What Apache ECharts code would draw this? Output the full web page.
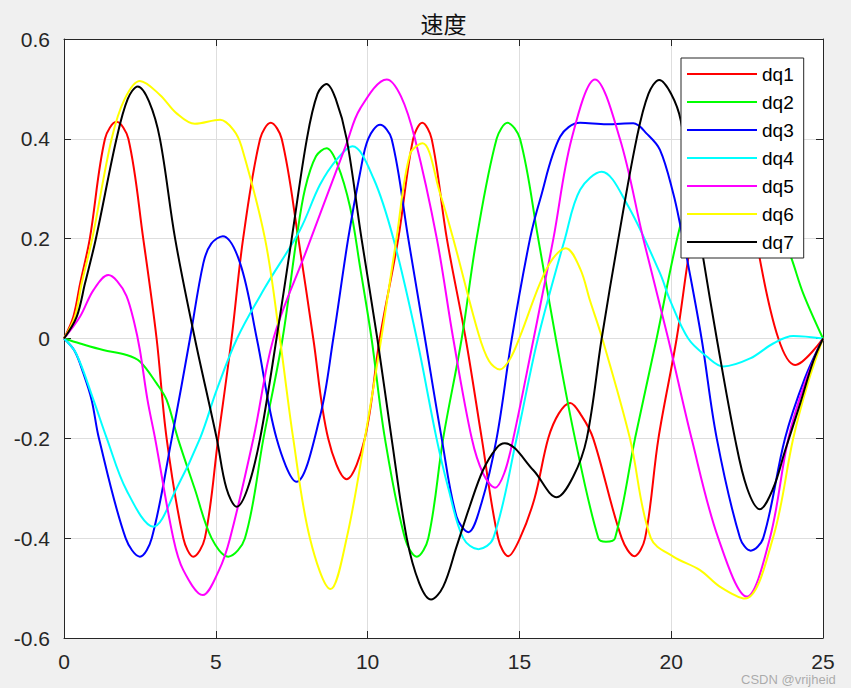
<!DOCTYPE html>
<html><head><meta charset="utf-8">
<script src="https://cdn.jsdelivr.net/npm/echarts@6/dist/echarts.min.js"></script>
<style>html,body{margin:0;padding:0;background:#f0f0f0}#c{width:851px;height:688px}</style>
</head><body><div id="c"></div>
<script>
const titleText = '速度';
const watermarkText = 'CSDN @vrijheid';
const seriesNames = ['dq1', 'dq2', 'dq3', 'dq4', 'dq5', 'dq6', 'dq7'];
const seriesColors = ['#ff0000', '#00ff00', '#0000ff', '#00ffff', '#ff00ff', '#ffff00', '#000000'];
const xTicks = [0, 5, 10, 15, 20, 25];
const yTicks = [-0.6, -0.4, -0.2, 0, 0.2, 0.4, 0.6];

const dq1 = [[0,0],[0.31,0.044],[0.53,0.11],[0.85,0.2],[1.35,0.4],[1.73,0.434],[2.12,0.4],[2.61,0.2],[3.05,0],[3.38,-0.2],[3.93,-0.4],[4.26,-0.437],[4.64,-0.4],[5.08,-0.2],[5.52,0],[5.9,0.2],[6.46,0.4],[6.81,0.432],[7.17,0.4],[7.72,0.2],[8.21,0],[8.7,-0.2],[9.31,-0.282],[9.91,-0.2],[10.4,0],[11.01,0.2],[11.5,0.4],[11.8,0.432],[12.11,0.4],[12.61,0.2],[13.23,0],[13.76,-0.2],[14.3,-0.4],[14.63,-0.436],[15.02,-0.4],[15.5,-0.32],[15.95,-0.2],[16.3,-0.15],[16.67,-0.129],[17.05,-0.155],[17.43,-0.2],[18.37,-0.4],[18.79,-0.436],[19.14,-0.4],[19.58,-0.2],[20.18,0],[20.56,0.16],[21.1,0.36],[21.74,0.45],[22.4,0.36],[22.92,0.159],[23.53,0],[24.08,-0.053],[25,0]];
const dq2 = [[0,0],[0.53,-0.01],[1.29,-0.023],[2.06,-0.033],[2.5,-0.046],[3.05,-0.09],[3.38,-0.123],[3.75,-0.2],[4.3,-0.3],[4.86,-0.4],[5.41,-0.437],[5.96,-0.4],[6.57,-0.2],[7.2,0],[7.66,0.2],[7.94,0.3],[8.3,0.365],[8.65,0.381],[9.0,0.35],[9.42,0.264],[9.75,0.144],[10.13,0],[10.57,-0.2],[11.23,-0.4],[11.62,-0.437],[12.0,-0.4],[12.49,-0.2],[13.1,0],[13.59,0.2],[14.25,0.4],[14.61,0.432],[15.02,0.4],[15.62,0.2],[16.2,0],[16.83,-0.2],[17.6,-0.4],[17.85,-0.407],[18.15,-0.4],[18.81,-0.2],[19.52,0],[20.29,0.224],[21.0,0.36],[21.9,0.41],[23.0,0.32],[23.97,0.159],[24.35,0.09],[25,0]];
const dq3 = [[0,0],[0.35,-0.025],[0.64,-0.07],[0.91,-0.123],[1.15,-0.2],[2.03,-0.4],[2.5,-0.437],[2.89,-0.4],[3.55,-0.2],[4.15,0],[4.59,0.151],[4.85,0.19],[5.23,0.205],[5.8,0.151],[6.35,0],[7.0,-0.2],[7.66,-0.287],[8.43,-0.157],[8.87,0],[9.36,0.2],[9.75,0.331],[10.02,0.4],[10.41,0.428],[10.79,0.4],[11.34,0.2],[11.89,0],[12.44,-0.2],[12.93,-0.357],[13.32,-0.388],[13.75,-0.33],[14.25,-0.2],[14.75,0],[15.35,0.2],[15.68,0.278],[16.34,0.404],[17.0,0.432],[17.87,0.429],[18.75,0.431],[19.2,0.41],[19.63,0.378],[20.07,0.29],[20.31,0.224],[20.53,0.157],[21.0,0],[21.5,-0.2],[22.27,-0.4],[22.62,-0.425],[23.03,-0.4],[23.75,-0.2],[24.4,-0.08],[25,0]];
const dq4 = [[0,0],[0.4,-0.03],[0.97,-0.123],[1.41,-0.2],[2.06,-0.304],[2.94,-0.377],[3.71,-0.3],[4.48,-0.2],[5.03,-0.103],[5.7,0],[6.6,0.1],[7.77,0.217],[8.43,0.308],[9.0,0.36],[9.5,0.385],[10.2,0.32],[10.85,0.2],[11.62,0],[12.27,-0.2],[12.66,-0.3],[13.15,-0.4],[13.65,-0.422],[14.14,-0.4],[14.91,-0.2],[15.61,0],[16.5,0.2],[17.0,0.298],[17.71,0.334],[18.53,0.271],[19.63,0.131],[19.96,0.077],[20.56,0],[21.17,-0.036],[21.72,-0.056],[22.6,-0.04],[23.36,-0.01],[24.02,0.005],[25,0]];
const dq5 = [[0,0],[0.53,0.044],[0.97,0.097],[1.46,0.127],[1.75,0.115],[2.06,0.085],[2.32,0.03],[2.5,-0.023],[2.75,-0.123],[3.0,-0.2],[3.6,-0.4],[3.93,-0.464],[4.57,-0.514],[5.1,-0.465],[5.47,-0.4],[6.24,-0.2],[6.9,0],[7.99,0.177],[9.31,0.391],[9.75,0.46],[10.63,0.519],[11.1,0.485],[11.56,0.4],[12.28,0.2],[12.82,0],[13.43,-0.2],[13.8,-0.27],[14.2,-0.299],[14.5,-0.27],[14.8,-0.2],[15.47,0],[15.68,0.064],[16.12,0.2],[16.72,0.4],[17.49,0.519],[18.31,0.4],[19.08,0.2],[19.9,0],[20.67,-0.2],[21.55,-0.4],[22.49,-0.517],[23.25,-0.4],[23.86,-0.2],[24.4,-0.09],[25,0]];
const dq6 = [[0,0],[0.36,0.044],[0.58,0.11],[0.93,0.2],[1.57,0.4],[2.0,0.48],[2.5,0.516],[3.16,0.488],[3.71,0.451],[4.31,0.43],[5.14,0.438],[5.58,0.418],[5.85,0.384],[6.62,0.2],[7.11,0],[7.55,-0.2],[8.1,-0.4],[8.78,-0.502],[9.31,-0.4],[9.91,-0.2],[10.45,0],[10.95,0.2],[11.4,0.37],[11.81,0.391],[12.39,0.29],[12.82,0.2],[13.65,0.01],[14.0,-0.045],[14.36,-0.062],[14.7,-0.04],[15.02,0.004],[15.68,0.111],[16.1,0.16],[16.53,0.181],[17.0,0.14],[17.33,0.075],[17.73,0],[18.64,-0.2],[19.33,-0.4],[20.07,-0.437],[20.95,-0.464],[21.6,-0.497],[22.43,-0.521],[23.35,-0.4],[24.02,-0.2],[24.5,-0.09],[25,0]];
const dq7 = [[0,0],[0.42,0.044],[0.69,0.11],[1.05,0.2],[1.73,0.4],[2.1,0.48],[2.43,0.505],[2.8,0.475],[3.16,0.4],[3.66,0.2],[4.31,0],[5.03,-0.2],[5.35,-0.3],[5.69,-0.337],[6.05,-0.3],[6.46,-0.2],[7.0,0],[7.5,0.2],[8.0,0.4],[8.35,0.49],[8.65,0.51],[8.95,0.48],[9.31,0.4],[9.8,0.2],[10.32,0],[10.79,-0.2],[11.29,-0.4],[11.7,-0.49],[12.09,-0.523],[12.49,-0.497],[12.93,-0.417],[13.36,-0.337],[13.8,-0.264],[14.24,-0.22],[14.52,-0.21],[15.46,-0.264],[16.23,-0.318],[16.77,-0.277],[17.22,-0.2],[17.71,0],[18.26,0.2],[18.86,0.4],[19.25,0.49],[19.61,0.518],[20.0,0.49],[20.31,0.438],[21.06,0.159],[21.5,0],[22.1,-0.2],[22.5,-0.3],[22.92,-0.342],[23.36,-0.3],[23.75,-0.225],[24.25,-0.13],[24.68,-0.045],[25,0]];
const seriesData = [dq1, dq2, dq3, dq4, dq5, dq6, dq7];

const axisColor = '#262626';
const fontFam = 'Liberation Sans, Arial, sans-serif';
const fmtY = v => { const r = Math.round(v * 10) / 10; return r === 0 ? '0' : String(r); };

function makeX(pos, labels) {
  return {
    type: 'value', position: pos, min: xTicks[0], max: xTicks[xTicks.length - 1], interval: 5,
    axisLine: { show: true, onZero: false, lineStyle: { color: axisColor, width: 1 } },
    axisTick: { show: true, inside: true, length: 7, lineStyle: { color: axisColor } },
    axisLabel: { show: labels, color: axisColor, fontSize: 21, fontFamily: fontFam, margin: 13 },
    splitLine: { show: labels, lineStyle: { color: '#dedede', width: 1 } }
  };
}
function makeY(pos, labels) {
  return {
    type: 'value', position: pos, min: yTicks[0], max: yTicks[yTicks.length - 1], interval: 0.2,
    axisLine: { show: true, onZero: false, lineStyle: { color: axisColor, width: 1 } },
    axisTick: { show: true, inside: true, length: 7, lineStyle: { color: axisColor } },
    axisLabel: { show: labels, color: axisColor, fontSize: 21, fontFamily: fontFam, margin: 14, formatter: fmtY },
    splitLine: { show: labels, lineStyle: { color: '#dedede', width: 1 } }
  };
}

const chart = echarts.init(document.getElementById('c'), null, { renderer: 'svg' });
chart.setOption({
  backgroundColor: '#f0f0f0',
  animation: false,
  grid: { left: 64, top: 39, right: 28, bottom: 50, show: true, backgroundColor: '#ffffff', borderWidth: 0 },
  xAxis: [makeX('bottom', true), makeX('top', false)],
  yAxis: [makeY('left', true), makeY('right', false)],
  legend: {
    orient: 'vertical', left: 681, top: 58, padding: [6, 10, 6, 6], itemGap: 8,
    icon: 'rect', itemWidth: 70, itemHeight: 2, backgroundColor: '#ffffff', borderColor: axisColor, borderWidth: 1,
    textStyle: { fontSize: 19, color: '#000', fontFamily: fontFam, lineHeight: 20 },
    data: seriesNames
  },
  graphic: [
    { type: 'text', x: 443.5, y: 23, style: { text: titleText, fontSize: 23, fontFamily: 'Noto Sans CJK SC', fontWeight: 'normal', fill: '#111', textAlign: 'center', textVerticalAlign: 'middle' } },
    { type: 'text', x: 741, y: 679, z: 100, style: { text: watermarkText, fontSize: 13, fontFamily: fontFam, fill: 'rgba(110,110,110,0.55)', textVerticalAlign: 'middle' } }
  ],
  series: seriesNames.map((n, i) => ({
    name: n, type: 'line', data: seriesData[i], xAxisIndex: 0, yAxisIndex: 0,
    symbol: 'none', smooth: 0.35, clip: true,
    lineStyle: { color: seriesColors[i], width: 2 }, itemStyle: { color: seriesColors[i] }
  }))
});
</script></body></html>
